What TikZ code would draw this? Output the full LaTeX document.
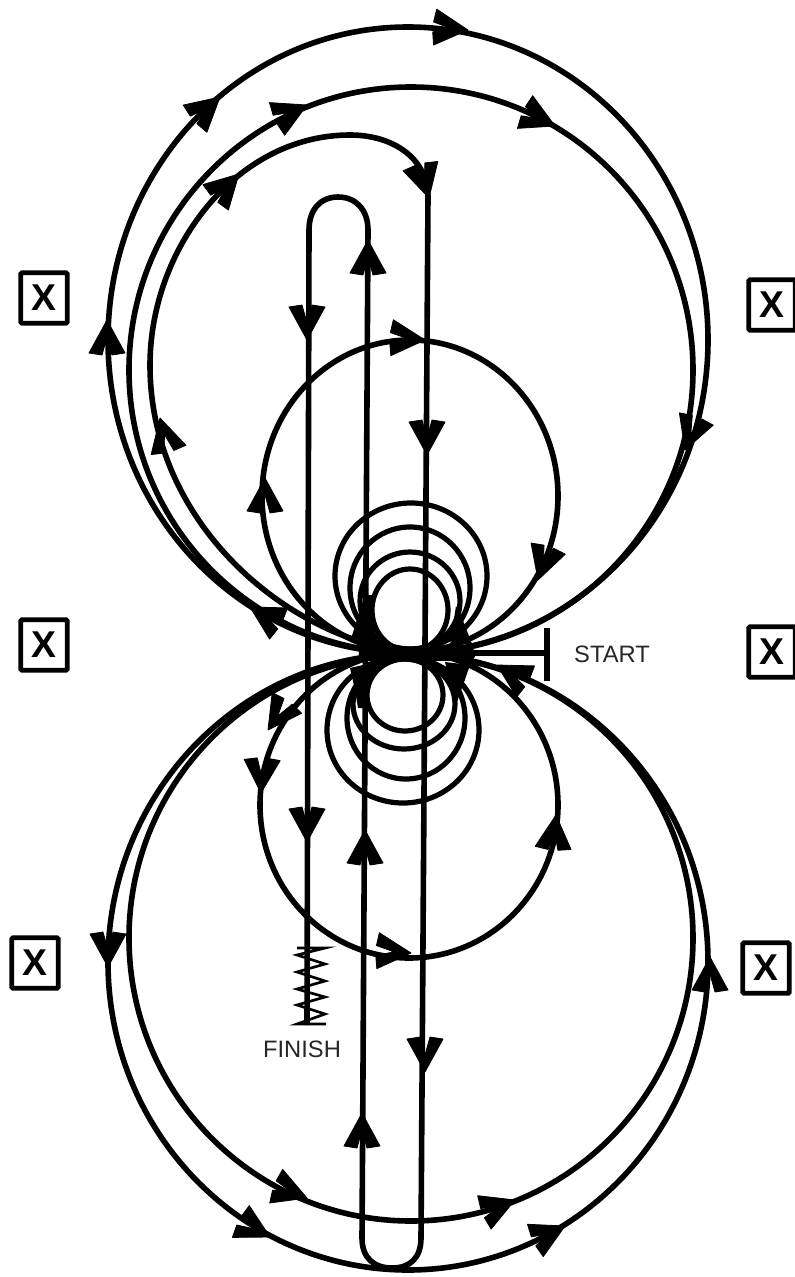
\documentclass[tikz,border=0pt]{standalone}
\usepackage{fontspec}
\setmainfont{Liberation Sans}
\newcommand{\ahd}[3]{\filldraw[black,line width=0.6pt,line join=round,shift={(#1,#2)},rotate=-#3] (0,0) -- (-33,18) -- (-35,5) -- (-17,0) -- (-35,-5) -- (-33,-18) -- cycle;}
\tikzset{
  loopline/.style={draw=black,line width=4.2pt},
  thinloop/.style={draw=black,line width=3.9pt},
  xbox/.style={draw=black,line width=3.6pt,rounded corners=1pt,minimum width=35pt,minimum height=38pt,inner sep=0pt,font=\fontsize{28pt}{28pt}\selectfont\bfseries},
  lab/.style={font=\fontsize{17.8pt}{18pt}\selectfont,text=black!85,inner sep=0pt}
}
\begin{document}
\begin{tikzpicture}[x=0.75pt,y=-0.75pt]
\useasboundingbox (0,0) rectangle (794,1277);
% big loops
\draw[loopline] (408,340) ellipse [x radius=300,y radius=313];
\draw[loopline] (411,370) ellipse [x radius=282,y radius=283];
\draw[loopline] (408,962) ellipse [x radius=300,y radius=308];
\draw[loopline] (411,938) ellipse [x radius=282,y radius=283];
% third loop and long track
\draw[loopline,line join=round] (410,652) .. controls (290,640) and (150,525) .. (150,365)
  .. controls (150,250) and (235,135) .. (350,135)
  .. controls (395,135) and (428,160) .. (428,197)
  -- (421,1238) .. controls (421,1258) and (410,1268) .. (392,1268)
  .. controls (374,1268) and (362,1258) .. (362,1238)
  -- (368,230) .. controls (368,210) and (356,197) .. (338,197)
  .. controls (320,197) and (309,210) .. (309,230)
  -- (307,1025);
% middle circles
\draw[loopline] (410,496) ellipse [x radius=148,y radius=156];
\draw[loopline] (409,805) ellipse [x radius=149,y radius=153];
% small loops
\draw[thinloop] (411,576) ellipse [x radius=76,y radius=73];
\draw[thinloop] (410,588) ellipse [x radius=60,y radius=61];
\draw[thinloop] (410,601) ellipse [x radius=50,y radius=49];
\draw[thinloop] (410,610) ellipse [x radius=38,y radius=41];
\draw[thinloop] (403,730) ellipse [x radius=76,y radius=73];
\draw[thinloop] (406,718) ellipse [x radius=59,y radius=61];
\draw[thinloop] (404,704) ellipse [x radius=51,y radius=45];
\draw[thinloop] (405,695) ellipse [x radius=38,y radius=36];
% central band and start
\draw[line width=11pt,line cap=round] (366,654) -- (468,654);
\fill (350,642) -- (360,610) -- (365,595) -- (372,595) -- (376,645) -- cycle;
\fill (472,644) -- (462,618) -- (456,606) -- (450,645) -- cycle;
\fill (350,668) -- (355,690) -- (358,708) -- (366,708) -- (376,662) -- cycle;
\fill (470,665) -- (462,688) -- (456,705) -- (445,662) -- cycle;
\draw[loopline] (462,653) -- (547,653);
\draw[line width=4.2pt] (547,628) -- (547,681);
% finish spring
\draw[line width=2pt,line join=miter] (297,948) -- (325,948) -- (297,955) -- (325,964) -- (297,972) -- (325,981) -- (297,989) -- (325,997) -- (297,1005) -- (325,1014) -- (297,1024) -- (326,1024);
% arrowheads
\ahd{468}{30}{5}\ahd{220}{97}{-41}\ahd{107}{320}{-90}\ahd{685}{450}{110}
\ahd{307}{105}{-25}\ahd{555}{126}{25}
\ahd{239}{174}{-45}\ahd{160}{418}{-105}\ahd{429}{198}{75}\ahd{250}{607}{-150}
\ahd{425}{340}{4}\ahd{265}{478}{-90}\ahd{538}{580}{108}
\ahd{307}{340}{90}\ahd{427}{455}{90}\ahd{368}{240}{-90}\ahd{365}{830}{-90}
\ahd{307}{842}{90}\ahd{425}{1072}{90}\ahd{362}{1113}{-90}
\ahd{268}{730}{125}\ahd{261}{793}{92}\ahd{411}{953}{4}\ahd{556}{815}{-85}\ahd{497}{665}{-150}
\ahd{108}{967}{90}\ahd{270}{1237}{28}\ahd{565}{1226}{-26}\ahd{710}{957}{-90}
\ahd{307}{1198}{21}\ahd{515}{1200}{-22}
% labels
\node[lab] (start) at (612,654) {START};
\node[lab] (finish) at (302,1049) {FINISH};
\node[xbox] (x1) at (44,298) {X};
\node[xbox] (x2) at (772,305) {X};
\node[xbox] (x3) at (44,645) {X};
\node[xbox] (x4) at (772,652) {X};
\node[xbox] (x5) at (35,963) {X};
\node[xbox] (x6) at (766,968) {X};
\end{tikzpicture}
\end{document}
